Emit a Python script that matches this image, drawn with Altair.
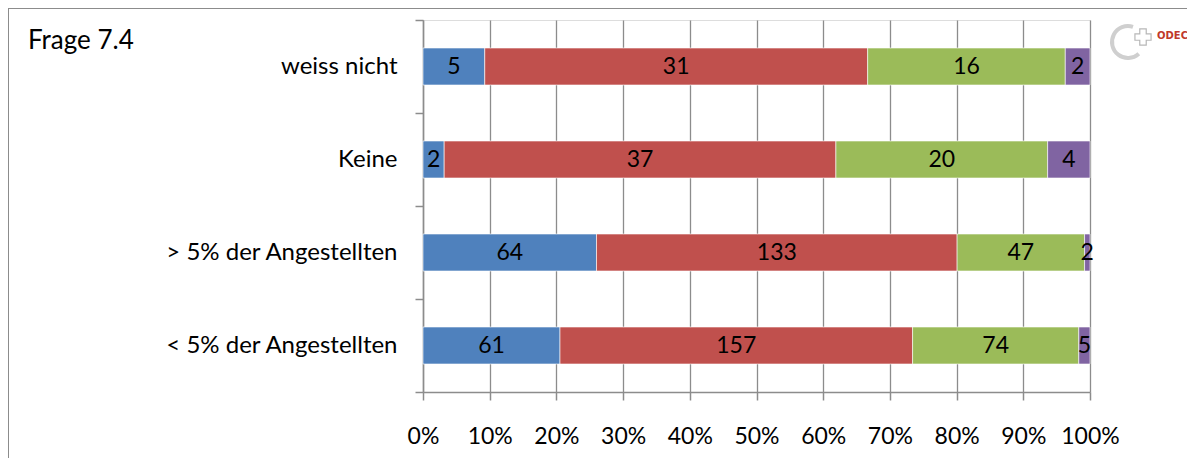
import altair as alt
import pandas as pd

categories = ["weiss nicht", "Keine", "> 5% der Angestellten", "< 5% der Angestellten"]
series = ["Serie 1", "Serie 2", "Serie 3", "Serie 4"]
colors = ["#4F81BD", "#C0504D", "#9BBB59", "#8064A2"]
s1 = [5, 2, 64, 61]
s2 = [31, 37, 133, 157]
s3 = [16, 20, 47, 74]
s4 = [2, 4, 2, 5]

rows = []
for ci, c in enumerate(categories):
    for si, vals in enumerate([s1, s2, s3, s4]):
        rows.append({"cat": c, "series": series[si], "idx": si, "value": vals[ci]})
df = pd.DataFrame(rows)

FONT = "Lato"
FS = 23
W, H = 667, 372

base = alt.Chart(df).transform_stack(
    stack="value", groupby=["cat"], as_=["v0", "v1"], offset="normalize",
    sort=[alt.SortField("idx", order="ascending")]
).transform_calculate(mid="(datum.v0 + datum.v1) / 2")

y_enc = alt.Y("cat:N", sort=categories, title=None,
              scale=alt.Scale(paddingInner=0, paddingOuter=0),
              axis=alt.Axis(tickBand="extent", domainColor="#8c8c8c", tickColor="#8c8c8c",
                            tickSize=8, labelPadding=18, labelFont=FONT, labelFontSize=24,
                            labelColor="black", domainWidth=1.5, tickWidth=1.5, labelLimit=0))

bars = base.mark_bar(size=37, stroke="white", strokeWidth=0.6).encode(
    x=alt.X("v0:Q", title=None, scale=alt.Scale(domain=[0, 1], nice=False),
            axis=alt.Axis(format=".0%", values=[i / 10 for i in range(11)],
                          grid=True, gridColor="#8c8c8c", gridWidth=1.3,
                          domainColor="#8c8c8c", tickColor="#8c8c8c", tickSize=8,
                          domainWidth=1.5, tickWidth=1.5,
                          labelPadding=25, labelFont=FONT, labelFontSize=FS,
                          labelColor="black", labelFlush=False)),
    x2="v1:Q",
    y=y_enc,
    color=alt.Color("series:N", scale=alt.Scale(domain=series, range=colors), legend=None),
)

labels = base.mark_text(font=FONT, fontSize=FS, color="black").encode(
    x="mid:Q",
    y=alt.Y("cat:N", sort=categories),
    text="value:Q",
)

frame_top = alt.Chart(pd.DataFrame({"a": [0]})).mark_rule(color="#8c8c8c", strokeWidth=2).encode(
    x=alt.value(-415), x2=alt.value(W + 120), y=alt.value(-12))
frame_left = alt.Chart(pd.DataFrame({"a": [0]})).mark_rule(color="#8c8c8c", strokeWidth=2).encode(
    x=alt.value(-415), y=alt.value(-12), y2=alt.value(H + 90))

title = alt.Chart(pd.DataFrame({"t": ["Frage 7.4"]})).mark_text(
    font=FONT, fontSize=26, align="left", baseline="middle", color="black").encode(
    x=alt.value(-395), y=alt.value(21), text="t:N")

logo_text = alt.Chart(pd.DataFrame({"t": ["ODEC"]})).mark_text(
    font="DejaVu Sans", fontSize=10, fontWeight="bold", align="left", baseline="middle",
    color="#c0392b").encode(x=alt.value(734), y=alt.value(16), text="t:N")
logo_cross = alt.Chart(pd.DataFrame({"a": [0]})).mark_point(
    shape="cross", filled=False, color="#9a9a9a", size=260, strokeWidth=1.2).encode(
    x=alt.value(720), y=alt.value(17))
logo_arc = alt.Chart(pd.DataFrame({"a": [0]})).mark_arc(
    radius=18, radius2=14, theta=2.4, theta2=6.6, color="#cfcfcf").encode(
    x=alt.value(705), y=alt.value(22))

chart = alt.layer(bars, labels, frame_top, frame_left, title, logo_arc, logo_cross, logo_text).properties(
    width=W, height=H,
    autosize=alt.AutoSizeParams(type="none"),
    padding={"left": 415, "top": 12, "right": 97, "bottom": 66},
).configure_view(stroke=None).configure(background="white")

chart.save("out.html", embed_options={"renderer": "svg", "actions": False})
